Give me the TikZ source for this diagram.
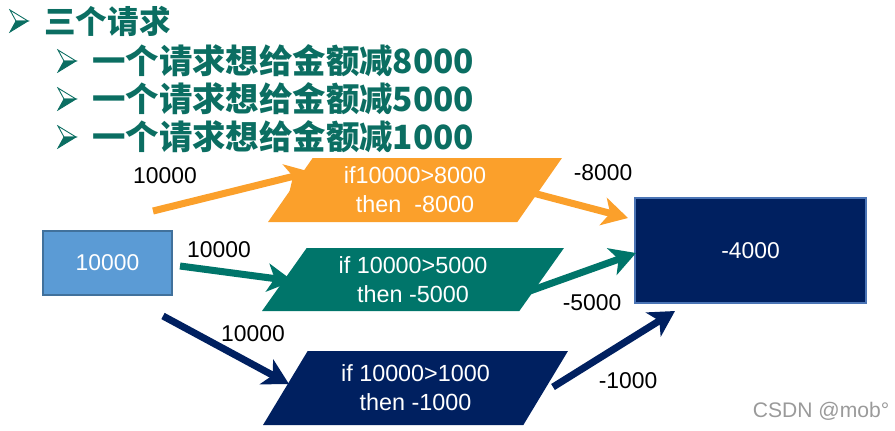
\documentclass[tikz,border=0pt]{standalone}
\usepackage{fontspec}
\setmainfont{Liberation Sans}
\newfontfamily\cjk{Noto Sans CJK SC}
\usetikzlibrary{arrows.meta,shapes.geometric}
\definecolor{headteal}{HTML}{0B6E62}
\definecolor{srcblue}{HTML}{5B9BD5}
\definecolor{srcedge}{HTML}{41719C}
\definecolor{amber}{HTML}{FBA02B}
\definecolor{pine}{HTML}{00756A}
\definecolor{navy}{HTML}{002060}
\definecolor{navyedge}{HTML}{4A74B5}
\definecolor{markgray}{HTML}{9A9A9A}
\tikzset{
  >={Stealth[length=14.5pt,width=16pt,inset=4pt]},
  arrowmark/.pic={
    \filldraw[fill=white,draw=headteal,line width=.5pt] (0,-11) -- (18,0) -- (6,0) -- cycle;
    \filldraw[fill=headteal,draw=headteal,line width=.5pt] (0,11) -- (18,0) -- (6,0) -- cycle;
  },
  headline/.style={anchor=west,inner sep=0pt,text=headteal,font=\cjk\bfseries\fontsize{19pt}{22pt}\selectfont},
  valbox/.style={rectangle,line width=.8pt,text=white,font=\fontsize{13pt}{16pt}\selectfont},
  cond/.style={trapezium,trapezium left angle=50,trapezium right angle=130,trapezium stretches body,
    inner sep=2pt,text=white,align=center,font=\fontsize{13.3pt}{16.5pt}\selectfont},
  flow/.style={->,line width=4pt},
  amount/.style={inner sep=0pt,font=\fontsize{13pt}{16pt}\selectfont},
}
\begin{document}
\begin{tikzpicture}[x=0.02cm,y=-0.02cm]
  \useasboundingbox (0,0) rectangle (895,430);

  \pic at (10,21) {arrowmark};
  \node[headline,font=\cjk\bfseries\fontsize{18pt}{22pt}\selectfont] (title) at (44,21) {三个请求};
  \pic at (58,61) {arrowmark};
  \node[headline] (req1) at (92,61) {一个请求想给金额减8000};
  \pic at (58,99) {arrowmark};
  \node[headline] (req2) at (92,99) {一个请求想给金额减5000};
  \pic at (58,137) {arrowmark};
  \node[headline] (req3) at (92,137) {一个请求想给金额减1000};

  \node[valbox,fill=srcblue,draw=srcedge,minimum width=2.58cm,minimum height=1.28cm] (src) at (107.5,263) {10000};
  \node[valbox,fill=navy,draw=navyedge,minimum width=4.62cm,minimum height=2.1cm] (res) at (750.5,250.5) {-4000};

  \node[cond,fill=amber,minimum width=5.88cm,minimum height=1.28cm] (c8) at (415,190) {if10000>8000\\then\ \ -8000};
  \node[cond,fill=pine,minimum width=6.04cm,minimum height=1.26cm] (c5) at (413,279.5) {if 10000>5000\\then -5000};
  \node[cond,fill=navy,minimum width=6.1cm,minimum height=1.48cm] (c1) at (415.5,388) {if 10000>1000\\then -1000};

  \coordinate (s8) at (153,211);
  \coordinate (t8) at (311,172);
  \coordinate (s5) at (180,266);
  \coordinate (t5) at (293,281);
  \coordinate (s1) at (163,316);
  \coordinate (t1) at (289,384);
  \coordinate (o8) at (533,193);
  \coordinate (r8) at (628,218);
  \coordinate (o5) at (527,292);
  \coordinate (r5) at (636,253);
  \coordinate (o1) at (553,387);
  \coordinate (r1) at (675,311);

  \draw[flow,amber] (s8) -- (t8);
  \draw[flow,pine] (s5) -- (t5);
  \draw[flow,navy] (s1) -- (t1);
  \draw[flow,amber] (o8) -- (r8);
  \draw[flow,pine] (o5) -- (r5);
  \draw[flow,navy] (o1) -- (r1);

  \node[amount] (in8) at (165,176) {10000};
  \node[amount] (in5) at (219,250) {10000};
  \node[amount] (in1) at (253,334) {10000};
  \node[amount] (out8) at (603,173) {-8000};
  \node[amount] (out5) at (592,303) {-5000};
  \node[amount] (out1) at (628,381) {-1000};

  \node[inner sep=0pt,text=markgray,font=\fontsize{12pt}{14pt}\selectfont] (mark) at (821,411) {CSDN @mob°};
\end{tikzpicture}
\end{document}
